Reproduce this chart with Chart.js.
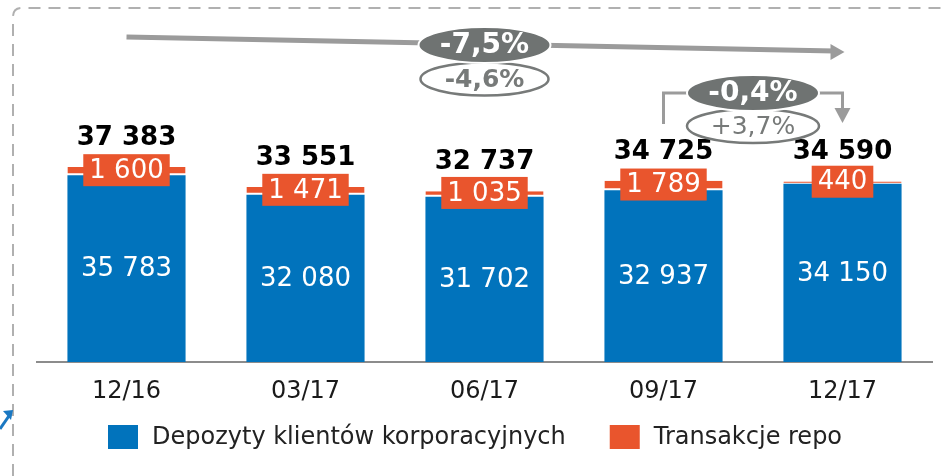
<!DOCTYPE html>
<html>
<head>
<meta charset="utf-8">
<script src="https://cdn.jsdelivr.net/npm/chart.js@4"></script>
<style>
  html, body { margin: 0; padding: 0; background: #fff; }
  #wrap { width: 947px; height: 476px; }
</style>
</head>
<body>
<div id="wrap"><canvas id="chartContainer"></canvas></div>
<script>
// data
const categories = ['12/16', '03/17', '06/17', '09/17', '12/17'];
const corporateDeposits = [35783, 32080, 31702, 32937, 34150];
const repoTransactions = [1600, 1471, 1035, 1789, 440];
const totals = [37383, 33551, 32737, 34725, 34590];
const seriesNames = ['Depozyty klientów korporacyjnych', 'Transakcje repo'];
const changeYear = ['-7,5%', '-4,6%'];
const changeQuarter = ['-0,4%', '+3,7%'];

const BLUE = '#0173bc';
const ORANGE = '#e9552d';
const FONT = "'DejaVu Sans', Verdana, sans-serif";

function fmt(v) {
    return String(v).replace(/\B(?=(\d{3})+(?!\d))/g, ' ');
}

function pill(ctx, x, y, rx, ry, fill, stroke, lw) {
    ctx.beginPath();
    ctx.ellipse(x, y, rx, ry, 0, 0, Math.PI * 2);
    ctx.fillStyle = fill;
    ctx.fill();
    ctx.lineWidth = lw;
    ctx.strokeStyle = stroke;
    ctx.stroke();
}

const labelsPlugin = {
    id: 'labelsPlugin',
    afterDatasetsDraw(chart) {
        const ctx = chart.ctx;
        const blueMeta = chart.getDatasetMeta(0);
        const orangeMeta = chart.getDatasetMeta(1);
        ctx.save();
        ctx.textAlign = 'center';
        ctx.textBaseline = 'middle';

        for (let i = 0; i < categories.length; i++) {
            const b = blueMeta.data[i];
            const o = orangeMeta.data[i];

            // value inside the blue part
            ctx.font = '26px ' + FONT;
            ctx.fillStyle = '#fff';
            ctx.fillText(fmt(corporateDeposits[i]), b.x, (b.y + b.base) / 2 + 1);

            // repo label in an orange box
            const txt = fmt(repoTransactions[i]);
            const w = ctx.measureText(txt).width + 12;
            const cy = (o.y + o.base) / 2 - 1;
            ctx.fillStyle = ORANGE;
            ctx.fillRect(o.x - w / 2, cy - 16, w, 32);
            ctx.fillStyle = '#fff';
            ctx.fillText(txt, o.x, cy + 1);

            // total above the bar
            ctx.font = 'bold 26px ' + FONT;
            ctx.fillStyle = '#000';
            ctx.fillText(fmt(totals[i]), o.x, o.y - 29);
        }
        ctx.restore();
    },
    afterDraw(chart) {
        const ctx = chart.ctx;
        const xs = chart.scales.x;
        const x0 = xs.getPixelForValue(0);
        const x3 = xs.getPixelForValue(3);
        const x4 = xs.getPixelForValue(4);
        ctx.save();

        // dashed frame
        ctx.setLineDash([12, 8]);
        ctx.lineWidth = 2;
        ctx.strokeStyle = '#b0b0b0';
        ctx.beginPath();
        ctx.moveTo(13, 476);
        ctx.lineTo(13, 17);
        ctx.quadraticCurveTo(13, 8, 22, 8);
        ctx.lineTo(947, 8);
        ctx.stroke();
        ctx.setLineDash([]);

        // little blue arrow fragment at the left edge
        ctx.strokeStyle = '#1a78c2';
        ctx.lineWidth = 3;
        ctx.beginPath();
        ctx.moveTo(0, 429);
        ctx.lineTo(11, 413);
        ctx.stroke();
        ctx.fillStyle = '#1a78c2';
        ctx.beginPath();
        ctx.moveTo(3, 411);
        ctx.lineTo(13, 410);
        ctx.lineTo(11, 420);
        ctx.closePath();
        ctx.fill();

        // long arrow over the whole period
        ctx.strokeStyle = '#9b9b9b';
        ctx.lineWidth = 5;
        ctx.beginPath();
        ctx.moveTo(x0, 37);
        ctx.lineTo(x4 - 8, 51);
        ctx.stroke();
        ctx.fillStyle = '#9b9b9b';
        ctx.beginPath();
        ctx.moveTo(x4 + 2, 52);
        ctx.lineTo(x4 - 12, 44);
        ctx.lineTo(x4 - 12, 60);
        ctx.closePath();
        ctx.fill();

        // quarter bracket arrow
        const mq = (x3 + x4) / 2;
        ctx.strokeStyle = '#9b9b9b';
        ctx.lineWidth = 3;
        ctx.beginPath();
        ctx.moveTo(x3, 124);
        ctx.lineTo(x3, 93);
        ctx.lineTo(mq - 50, 93);
        ctx.moveTo(mq + 50, 93);
        ctx.lineTo(x4, 93);
        ctx.lineTo(x4, 110);
        ctx.stroke();
        ctx.beginPath();
        ctx.moveTo(x4 - 8, 108);
        ctx.lineTo(x4 + 8, 108);
        ctx.lineTo(x4, 123);
        ctx.closePath();
        ctx.fill();

        ctx.textAlign = 'center';
        ctx.textBaseline = 'middle';

        // year change pills
        const my = (x0 + x4) / 2;
        pill(ctx, my, 79, 64, 16.5, '#fff', '#777a79', 2.5);
        ctx.font = 'bold 25px ' + FONT;
        ctx.fillStyle = '#777a79';
        ctx.fillText(changeYear[1], my, 80);
        pill(ctx, my, 45, 66, 18, '#6f7372', '#fff', 2);
        ctx.font = 'bold 28px ' + FONT;
        ctx.fillStyle = '#fff';
        ctx.fillText(changeYear[0], my, 46);

        // quarter change pills
        pill(ctx, mq, 126, 66, 17, '#fff', '#777a79', 2.5);
        ctx.font = '25px ' + FONT;
        ctx.fillStyle = '#777a79';
        ctx.fillText(changeQuarter[1], mq, 127);
        pill(ctx, mq, 93, 66, 18, '#6f7372', '#fff', 2);
        ctx.font = 'bold 28px ' + FONT;
        ctx.fillStyle = '#fff';
        ctx.fillText(changeQuarter[0], mq, 94);

        // legend
        ctx.font = '24px ' + FONT;
        ctx.textAlign = 'left';
        let lx = 108;
        const colors = [BLUE, ORANGE];
        for (let k = 0; k < seriesNames.length; k++) {
            ctx.fillStyle = colors[k];
            ctx.fillRect(lx, 425, 30, 24);
            ctx.fillStyle = '#222';
            ctx.fillText(seriesNames[k], lx + 44, 438);
            lx += 44 + ctx.measureText(seriesNames[k]).width + 44;
        }
        ctx.restore();
    }
};

var ctx = document.getElementById('chartContainer').getContext('2d');

window.myBarChart = new Chart(ctx, {
    type: 'bar',
    data: {
        labels: categories,
        datasets: [{
            label: seriesNames[0],
            data: corporateDeposits,
            backgroundColor: BLUE,
            borderWidth: 0
        }, {
            label: seriesNames[1],
            data: repoTransactions,
            backgroundColor: ORANGE,
            borderColor: '#fff',
            borderWidth: { top: 0, left: 0, right: 0, bottom: 2 },
            borderSkipped: false
        }]
    },
    options: {
        responsive: true,
        maintainAspectRatio: false,
        animation: false,
        layout: {
            padding: { left: 37, right: 15, top: 0, bottom: 74 }
        },
        datasets: {
            bar: { barPercentage: 0.66, categoryPercentage: 1 }
        },
        scales: {
            x: {
                stacked: true,
                grid: { display: false, drawTicks: false },
                border: { color: '#8c8c8c', width: 2 },
                ticks: {
                    color: '#1a1a1a',
                    padding: 15,
                    font: { family: FONT, size: 24 }
                },
                afterFit: function(axis) { axis.height = 40; }
            },
            y: {
                stacked: true,
                display: false,
                min: 0,
                max: 69400
            }
        },
        plugins: {
            legend: { display: false },
            tooltip: { enabled: false }
        }
    },
    plugins: [labelsPlugin]
});
</script>
</body>
</html>
